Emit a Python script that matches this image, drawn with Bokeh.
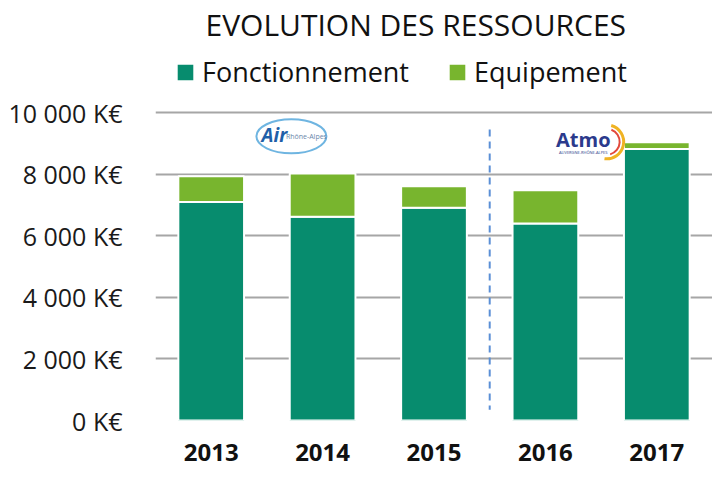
from bokeh.plotting import figure
from bokeh.models import (ColumnDataSource, FactorRange, Range1d, FixedTicker, Legend, LegendItem,
                          Label)
from bokeh.embed import file_html
from bokeh.resources import INLINE

years = ["2013", "2014", "2015", "2016", "2017"]
fonctionnement = [7100, 6620, 6910, 6400, 8820]
equipement = [830, 1400, 700, 1080, 220]
y_ticks = [0, 2000, 4000, 6000, 8000, 10000]
y_tick_labels = ["0 K€", "2 000 K€", "4 000 K€", "6 000 K€", "8 000 K€", "10 000 K€"]
title_text = "EVOLUTION DES RESSOURCES"
series_names = ["Fonctionnement", "Equipement"]
separator_x = 3  # boundary between 2015 and 2016 (Air Rhône-Alpes -> Atmo)

C_FONC = "#078C6E"
C_EQUIP = "#78B52E"
FONT = "Open Sans"

src = ColumnDataSource(dict(years=years, fonctionnement=fonctionnement, equipement=equipement))

# the frame extends up to the top of the picture so that title and legend fit inside it
p = figure(x_range=FactorRange(*years), y_range=Range1d(0, 13640),
           width=712, height=473, output_backend="svg", toolbar_location=None,
           min_border_left=155, min_border_right=0, min_border_top=0, min_border_bottom=53)
p.outline_line_color = None

rs = p.vbar_stack(["fonctionnement", "equipement"], x="years", width=0.59, source=src,
                  color=[C_FONC, C_EQUIP], line_color="white", line_width=2)

# axes
p.yaxis.ticker = FixedTicker(ticks=y_ticks)
p.yaxis.major_label_overrides = {t: l for t, l in zip(y_ticks, y_tick_labels)}
p.yaxis.axis_line_color = None
p.yaxis.major_tick_line_color = None
p.yaxis.minor_tick_line_color = None
p.yaxis.major_label_text_font = FONT
p.yaxis.major_label_text_font_size = "25px"
p.yaxis.major_label_text_color = "#1a1a1a"
p.yaxis.major_label_standoff = 27

p.xaxis.axis_line_color = None
p.xaxis.major_tick_line_color = None
p.xaxis.major_label_text_font = FONT
p.xaxis.major_label_text_font_size = "24px"
p.xaxis.major_label_text_font_style = "bold"
p.xaxis.major_label_text_color = "#111111"
p.xaxis.major_label_standoff = 17

p.xgrid.grid_line_color = None
p.ygrid.grid_line_color = "#A6A6A6"
p.ygrid.grid_line_width = 2
p.ygrid.level = "underlay"

# dashed separator between 2015 and 2016
p.segment(x0=[separator_x], y0=[9450], x1=[separator_x], y1=[350], line_color="#5B8FD6",
          line_dash="7 5", line_width=2)

# title
p.add_layout(Label(x=50, y=396, x_units="screen", y_units="screen", text=title_text,
                   text_align="left", text_baseline="middle", text_font=FONT,
                   text_font_size="30px", text_color="#111111"))

# legend
legend = Legend(items=[LegendItem(label=series_names[0], renderers=[rs[0]]),
                       LegendItem(label=series_names[1], renderers=[rs[1]])],
                orientation="horizontal", location=(19, 330), padding=0, spacing=37, margin=0,
                glyph_width=22, glyph_height=22, label_standoff=6,
                label_text_font=FONT, label_text_font_size="27px", label_text_color="#111111",
                border_line_color=None, background_fill_alpha=0)
p.add_layout(legend)

# logos (approximate)
p.ellipse(x=[1.22], y=[9230], width=70, height=34, width_units="screen", height_units="screen",
          fill_color=None, line_color="#4BA3D9", line_width=2, line_alpha=0.8)
p.add_layout(Label(x=1.22, y=9270, x_offset=-17, text="Air", text_align="center",
                   text_baseline="middle", text_font=FONT, text_font_size="19px",
                   text_font_style="bold italic", text_color="#1F5FA8"))
p.add_layout(Label(x=1.22, y=9230, x_offset=15, text="Rhône-Alpes", text_align="center",
                   text_baseline="middle", text_font=FONT, text_font_size="7px",
                   text_color="#6A86AA"))
p.add_layout(Label(x=3.84, y=9120, text="Atmo", text_align="center",
                   text_baseline="middle", text_font=FONT, text_font_size="20px",
                   text_font_style="bold", text_color="#2B3A8C"))
p.add_layout(Label(x=3.84, y=9120, y_offset=-13, text="AUVERGNE-RHÔNE-ALPES", text_align="center",
                   text_baseline="middle", text_font=FONT, text_font_size="4px",
                   text_color="#2B3A8C"))
p.arc(x=[4.05], y=[9050], radius=17, radius_units="screen", start_angle=-1.7, end_angle=1.3,
      line_color="#F0B323", line_width=3)
p.arc(x=[4.05], y=[9050], radius=13, radius_units="screen", start_angle=-1.3, end_angle=1.2,
      line_color="#E2493B", line_width=2)

open("out.html", "w").write(file_html(p, INLINE))
